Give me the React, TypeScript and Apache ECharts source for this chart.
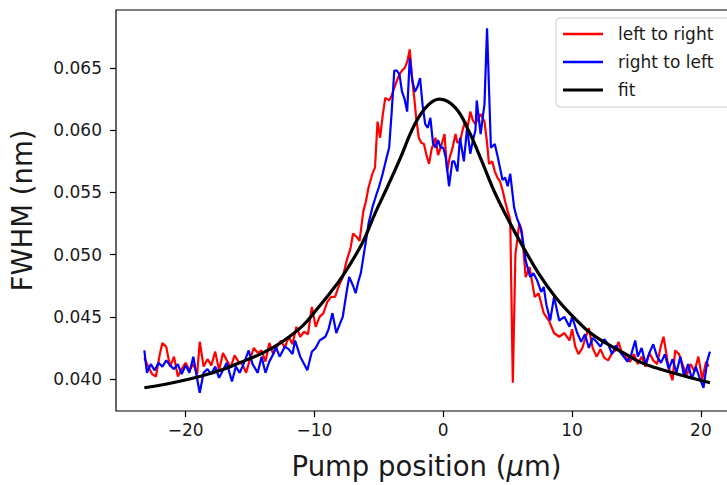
import React, { useEffect, useRef } from "react";
import * as echarts from "echarts";

const redX = [-23.2,-22.9,-22.6,-22.3,-22.0,-21.8,-21.5,-21.2,-20.9,-20.6,-20.3,-20.0,-19.7,-19.4,-19.1,-18.9,-18.6,-18.3,-18.0,-17.7,-17.4,-17.1,-16.8,-16.5,-16.2,-15.9,-15.6,-15.3,-15.0,-14.7,-14.4,-14.1,-13.8,-13.5,-13.2,-12.9,-12.6,-12.3,-12.0,-11.7,-11.4,-11.1,-10.8,-10.5,-10.2,-9.9,-9.6,-9.3,-9.0,-8.7,-8.4,-8.1,-7.8,-7.5,-7.2,-7.0,-6.7,-6.5,-6.2,-6.0,-5.8,-5.5,-5.3,-5.1,-4.9,-4.7,-4.5,-4.2,-4.0,-3.8,-3.6,-3.4,-3.2,-3.0,-2.8,-2.6,-2.4,-2.25,-2.1,-1.9,-1.7,-1.5,-1.3,-1.1,-0.9,-0.6,-0.4,-0.2,0.1,0.3,0.5,0.7,0.95,1.1,1.3,1.5,1.7,1.9,2.1,2.3,2.5,2.7,2.9,3.2,3.4,3.55,3.8,4.0,4.2,4.4,4.6,4.8,5.0,5.2,5.4,5.6,5.9,6.1,6.4,6.7,7.1,7.4,7.8,8.2,8.6,9.0,9.4,9.8,10.0,10.25,10.5,10.8,11.0,11.3,11.6,11.9,12.2,12.5,12.8,13.1,13.4,13.6,13.9,14.2,14.5,14.8,15.1,15.4,15.7,16.0,16.3,16.6,16.9,17.1,17.4,17.6,17.8,18.0,18.3,18.6,18.9,19.2,19.5,19.8,20.1,20.4,20.6];
const redY = [0.0417,0.0410,0.0404,0.0402,0.0420,0.0429,0.0426,0.0410,0.0418,0.0402,0.0408,0.0413,0.0407,0.0412,0.0404,0.0430,0.0410,0.0416,0.0411,0.0422,0.0407,0.0421,0.0415,0.0409,0.0419,0.0414,0.0412,0.0405,0.0416,0.0425,0.0421,0.0423,0.0414,0.0429,0.0420,0.0426,0.0431,0.0425,0.0434,0.0428,0.0442,0.0434,0.0438,0.0436,0.0458,0.0442,0.0450,0.0453,0.0462,0.0466,0.0466,0.0475,0.0482,0.0495,0.0505,0.0517,0.0514,0.0511,0.0535,0.0543,0.0554,0.0565,0.0570,0.0607,0.0594,0.0612,0.0626,0.0624,0.0628,0.0634,0.0640,0.0645,0.0648,0.0650,0.0655,0.0665,0.0640,0.0626,0.0610,0.0594,0.0590,0.0589,0.0580,0.0573,0.0585,0.0594,0.0580,0.0586,0.0597,0.0567,0.0578,0.0585,0.0597,0.0590,0.0591,0.0600,0.0607,0.0603,0.0615,0.0608,0.0605,0.0610,0.0613,0.0607,0.0590,0.0573,0.0575,0.0567,0.0562,0.0559,0.0552,0.0543,0.0535,0.0528,0.0397,0.0500,0.0525,0.0519,0.0482,0.0490,0.0466,0.0469,0.0453,0.0447,0.0437,0.0434,0.0437,0.0431,0.0440,0.0426,0.0420,0.0425,0.0432,0.0441,0.0425,0.0418,0.0424,0.0417,0.0415,0.0421,0.0423,0.0430,0.0420,0.0417,0.0414,0.0420,0.0412,0.0418,0.0410,0.0421,0.0415,0.0412,0.0427,0.0434,0.0415,0.0405,0.0399,0.0423,0.0420,0.0411,0.0403,0.0412,0.0406,0.0418,0.0400,0.0414,0.0410];

const blueX = [-23.2,-23.0,-22.7,-22.4,-22.1,-21.8,-21.5,-21.2,-20.9,-20.6,-20.3,-20.0,-19.7,-19.4,-19.1,-18.9,-18.6,-18.3,-18.0,-17.7,-17.4,-17.1,-16.8,-16.4,-16.1,-15.8,-15.5,-15.1,-14.8,-14.4,-14.1,-13.8,-13.5,-13.2,-13.0,-12.7,-12.3,-12.0,-11.7,-11.5,-11.1,-10.8,-10.55,-10.2,-9.9,-9.6,-9.15,-8.9,-8.6,-8.3,-8.0,-7.8,-7.5,-7.3,-7.0,-6.8,-6.6,-6.4,-6.2,-6.0,-5.8,-5.5,-5.2,-5.0,-4.7,-4.4,-4.2,-4.0,-3.8,-3.6,-3.4,-3.2,-3.0,-2.8,-2.6,-2.4,-2.2,-2.0,-1.8,-1.6,-1.4,-1.2,-1.0,-0.8,-0.6,-0.4,-0.2,0.0,0.2,0.45,0.7,0.85,1.1,1.3,1.6,1.85,2.1,2.3,2.5,2.6,2.9,3.2,3.4,3.7,4.0,4.2,4.4,4.6,4.8,5.0,5.2,5.5,5.7,6.0,6.2,6.4,6.75,7.0,7.3,7.6,7.8,8.0,8.3,8.6,9.0,9.4,9.8,10.0,10.4,10.7,11.0,11.3,11.6,11.9,12.2,12.5,12.8,13.1,13.4,13.7,14.0,14.3,14.6,14.9,15.1,15.4,15.7,16.0,16.3,16.6,16.9,17.2,17.5,17.8,18.1,18.4,18.7,19.0,19.3,19.6,19.9,20.2,20.5,20.7];
const blueY = [0.0423,0.0405,0.0412,0.0407,0.0413,0.0410,0.0415,0.0411,0.0408,0.0412,0.0404,0.0411,0.0405,0.0418,0.0400,0.0389,0.0405,0.0408,0.0404,0.0410,0.0401,0.0407,0.0413,0.0398,0.0410,0.0405,0.0412,0.0423,0.0412,0.0405,0.0418,0.0405,0.0414,0.0420,0.0426,0.0418,0.0426,0.0424,0.0420,0.0431,0.0418,0.0412,0.0407,0.0422,0.0425,0.0431,0.0434,0.0440,0.0453,0.0437,0.0445,0.0450,0.0470,0.0482,0.0475,0.0469,0.0478,0.0485,0.0498,0.0511,0.0525,0.0538,0.0548,0.0554,0.0565,0.0578,0.0586,0.0615,0.0648,0.0648,0.0645,0.0631,0.0625,0.0615,0.0658,0.0640,0.0631,0.0635,0.0642,0.0620,0.0605,0.0602,0.0610,0.0590,0.0586,0.0592,0.0586,0.0586,0.0578,0.0555,0.0575,0.0575,0.0567,0.0594,0.0575,0.0602,0.0581,0.0592,0.0600,0.0624,0.0597,0.0621,0.0682,0.0586,0.0589,0.0580,0.0570,0.0560,0.0562,0.0555,0.0565,0.0538,0.0530,0.0522,0.0510,0.0495,0.0482,0.0485,0.0479,0.0470,0.0474,0.0460,0.0447,0.0466,0.0447,0.0450,0.0442,0.0450,0.0437,0.0430,0.0436,0.0425,0.0433,0.0430,0.0426,0.0432,0.0428,0.0420,0.0427,0.0422,0.0418,0.0414,0.0420,0.0431,0.0418,0.0425,0.0412,0.0421,0.0428,0.0418,0.0413,0.0420,0.0408,0.0416,0.0405,0.0418,0.0402,0.0412,0.0400,0.0410,0.0401,0.0393,0.0415,0.0422];

const fitX = [-23.2,-21.0,-18.9,-17.0,-15.6,-14.0,-12.5,-10.9,-9.9,-8.8,-7.8,-6.3,-5.3,-4.4,-3.4,-2.2,-1.2,-0.3,0.95,2.0,3.0,4.0,5.1,6.1,7.4,8.7,10.0,11.3,12.6,14.0,15.2,16.5,17.8,19.2,20.7];
const fitY = [0.0393,0.0397,0.0402,0.0408,0.0414,0.0421,0.0430,0.0443,0.0455,0.0469,0.0483,0.0509,0.0533,0.0553,0.0576,0.0605,0.0620,0.0625,0.0618,0.0599,0.0575,0.0550,0.0527,0.0508,0.0485,0.0466,0.0451,0.0438,0.0429,0.0421,0.0414,0.0409,0.0405,0.0401,0.0397];

const xTicks = [-20, -10, 0, 10, 20];
const yTicks = [0.04, 0.045, 0.05, 0.055, 0.06, 0.065];
const seriesNames = ["left to right", "right to left", "fit"];
const seriesColors = ["#ff0000", "#0000ff", "#000000"];

const zip = (xs: number[], ys: number[]) => xs.map((x, i) => [x, ys[i]]);
const FONT = "DejaVu Sans";

export default function App() {
  const ref = useRef<HTMLDivElement>(null);
  useEffect(() => {
    if (!ref.current) return;
    const chart = echarts.init(ref.current, undefined, { renderer: "svg" });
    const legendX = 556;
    const legendY = 18;
    const rowY = [34, 62, 90];
    const legendGraphics: any[] = [
      {
        type: "rect",
        shape: { x: legendX, y: legendY, width: 190, height: 89, r: 4 },
        style: { fill: "rgba(255,255,255,0.8)", stroke: "#cccccc", lineWidth: 1 },
        z: 100,
      },
    ];
    seriesNames.forEach((n, i) => {
      legendGraphics.push({
        type: "line",
        shape: { x1: 563, y1: rowY[i], x2: 603, y2: rowY[i] },
        style: { stroke: seriesColors[i], lineWidth: i === 2 ? 3.2 : 2.4 },
        z: 101,
      });
      legendGraphics.push({
        type: "text",
        x: 618,
        y: rowY[i],
        style: {
          text: n,
          fill: "#1a1a1a",
          font: `17px "${FONT}"`,
          textVerticalAlign: "middle",
          verticalAlign: "middle",
        },
        z: 101,
      });
    });
    chart.setOption({
      animation: false,
      grid: {
        left: 116,
        top: 10,
        width: 621,
        height: 402,
        show: true,
        borderColor: "#000",
        borderWidth: 1.2,
        backgroundColor: "transparent",
      },
      xAxis: {
        type: "value",
        min: -25.4,
        max: 22.8,
        axisLine: { show: false, onZero: false },
        splitLine: { show: false },
        axisTick: {
          show: true,
          inside: false,
          length: 6,
          customValues: xTicks,
          lineStyle: { color: "#000", width: 1.2 },
        },
        axisLabel: {
          customValues: xTicks,
          margin: 10,
          fontSize: 17,
          fontFamily: FONT,
          color: "#1a1a1a",
          formatter: (v: number) => (v < 0 ? "\u2212" + Math.abs(v) : String(v)),
        },
        name: "Pump position ({mu|\u03bc}m)",
        nameLocation: "middle",
        nameGap: 41,
        nameTextStyle: {
          fontSize: 27.5,
          fontFamily: FONT,
          color: "#1a1a1a",
          rich: {
            mu: { fontSize: 27.5, fontFamily: FONT, fontStyle: "italic", color: "#1a1a1a" },
          },
        },
      },
      yAxis: {
        type: "value",
        min: 0.03743,
        max: 0.06967,
        axisLine: { show: false, onZero: false },
        splitLine: { show: false },
        axisTick: {
          show: true,
          inside: false,
          length: 6,
          customValues: yTicks,
          lineStyle: { color: "#000", width: 1.2 },
        },
        axisLabel: {
          customValues: yTicks,
          margin: 14,
          fontSize: 17,
          fontFamily: FONT,
          color: "#1a1a1a",
          formatter: (v: number) => v.toFixed(3),
        },
        name: "FWHM (nm)",
        nameLocation: "middle",
        nameGap: 80,
        nameTextStyle: { fontSize: 27.5, fontFamily: FONT, color: "#1a1a1a" },
      },
      series: [
        {
          name: seriesNames[0],
          type: "line",
          data: zip(redX, redY),
          showSymbol: false,
          lineStyle: { color: seriesColors[0], width: 2.2 },
          z: 2,
        },
        {
          name: seriesNames[1],
          type: "line",
          data: zip(blueX, blueY),
          showSymbol: false,
          lineStyle: { color: seriesColors[1], width: 2.2 },
          z: 3,
        },
        {
          name: seriesNames[2],
          type: "line",
          data: zip(fitX, fitY),
          showSymbol: false,
          smooth: 0.4,
          lineStyle: { color: seriesColors[2], width: 3.2 },
          z: 4,
        },
      ],
      graphic: legendGraphics,
    });
    return () => chart.dispose();
  }, []);
  return (
    <div style={{ position: "absolute", left: 0, top: 0, width: 727, height: 485, overflow: "hidden" }}>
      <div ref={ref} style={{ width: 760, height: 485 }} />
    </div>
  );
}
